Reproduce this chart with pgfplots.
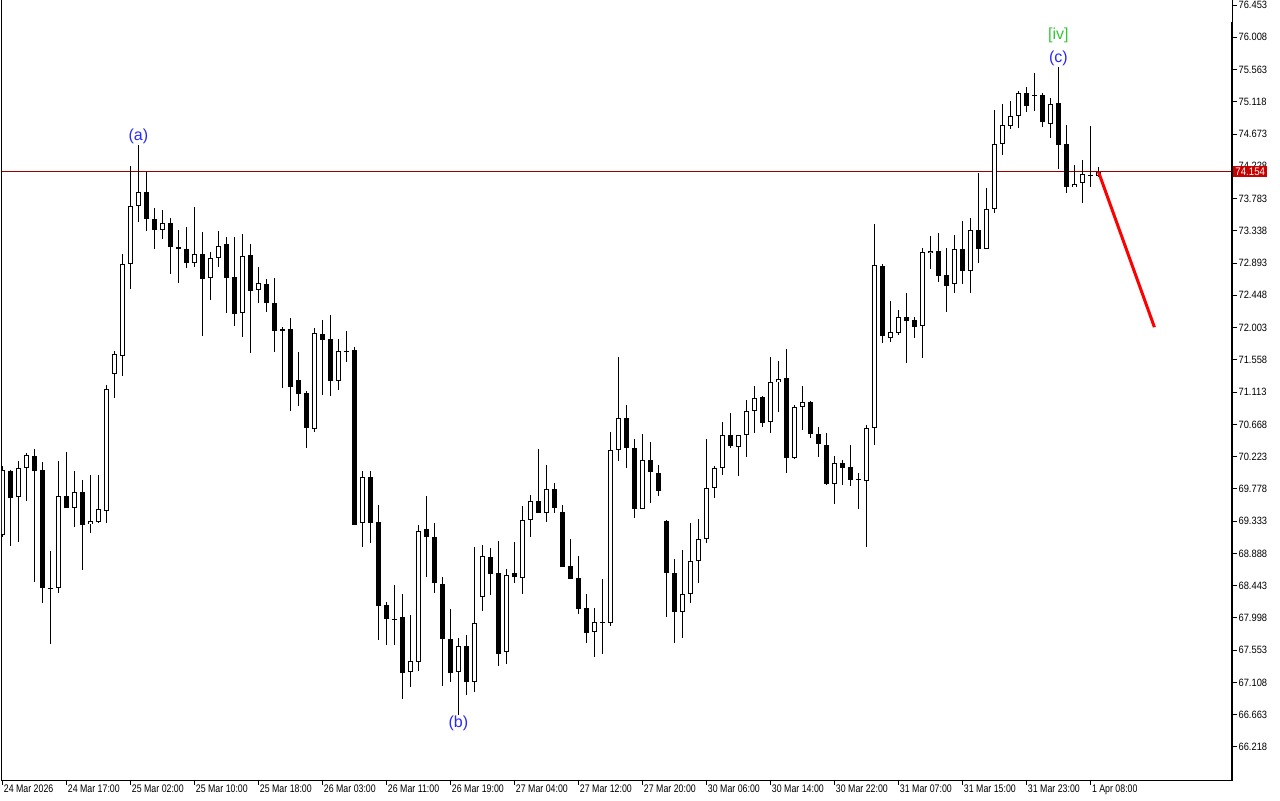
\documentclass[border=0pt]{standalone}
\usepackage{fontspec}
\setmainfont{Liberation Sans}
\newfontfamily\axfont[FakeStretch=0.8]{Liberation Sans}
\newfontfamily\yfont[FakeStretch=0.88]{Liberation Sans}
\usepackage{pgfplots}
\usepackage{pgfplotstable}
\pgfplotsset{compat=1.18}
\definecolor{annblue}{RGB}{40,40,255}
\definecolor{anngreen}{RGB}{50,200,50}
\definecolor{pricered}{RGB}{200,0,0}
\definecolor{lvl}{RGB}{150,0,0}

\pgfplotstableread{
i O H L C
0 69.142 70.094 69.114 70.038
1 70.025 70.038 68.990 69.652
2 69.666 70.163 69.045 70.066
3 70.066 70.273 69.611 70.245
4 70.232 70.328 68.493 70.025
5 70.038 70.149 68.204 68.411
6 68.411 68.921 67.638 68.411
7 68.411 70.163 68.342 69.680
8 69.680 70.287 69.514 69.514
9 69.514 70.025 69.252 69.735
10 69.735 69.900 68.659 69.280
11 69.293 69.969 69.169 69.335
12 69.321 69.969 69.307 69.500
13 69.473 71.211 69.307 71.156
14 71.363 71.680 71.032 71.639
15 71.611 73.018 71.335 72.880
16 72.880 74.232 72.535 73.680
17 73.680 74.522 73.460 73.873
18 73.873 74.149 73.335 73.501
19 73.501 73.653 73.087 73.349
20 73.349 73.625 73.225 73.446
21 73.446 73.515 72.742 73.115
22 73.115 73.349 72.618 73.087
23 73.087 73.391 72.825 72.894
24 72.894 73.666 72.839 73.018
25 73.018 73.322 71.887 72.673
26 72.687 73.046 72.384 72.963
27 72.963 73.335 72.839 73.128
28 73.156 73.253 72.204 72.687
29 72.701 73.253 72.025 72.190
30 72.204 73.294 71.873 72.991
31 73.004 73.156 71.652 72.508
32 72.522 72.839 72.342 72.618
33 72.604 72.673 72.218 72.342
34 72.342 72.687 71.666 71.956
35 71.983 72.011 71.170 71.970
36 71.983 72.135 70.852 71.183
37 71.280 71.666 70.921 71.087
38 71.101 71.128 70.342 70.618
39 70.604 71.997 70.563 71.928
40 71.915 72.108 71.073 71.832
41 71.846 72.177 71.059 71.266
42 71.266 71.846 71.142 71.680
43 71.680 71.956 71.528 71.680
44 71.694 71.735 69.280 69.280
45 69.307 70.025 68.976 69.942
46 69.942 70.025 69.031 69.307
47 69.321 69.556 67.693 68.162
48 68.176 68.217 67.624 67.983
49 67.983 68.452 67.624 67.983
50 68.011 68.328 66.879 67.238
51 67.252 68.038 67.045 67.404
52 67.390 69.280 67.266 69.197
53 69.224 69.680 68.562 69.114
54 69.114 69.307 68.342 68.480
55 68.466 68.562 67.059 67.707
56 67.707 68.121 67.114 67.238
57 67.252 67.721 66.659 67.610
58 67.610 67.762 66.935 67.114
59 67.114 68.976 66.976 67.928
60 68.286 69.004 68.093 68.852
61 68.838 68.962 68.314 68.604
62 68.618 69.059 67.335 67.500
63 67.528 68.673 67.362 68.590
64 68.618 69.045 68.480 68.562
65 68.549 69.542 68.328 69.349
66 69.349 69.694 69.114 69.611
67 69.611 70.328 69.445 69.445
68 69.445 70.107 69.321 69.776
69 69.776 69.859 69.445 69.514
70 69.459 69.556 68.700 68.700
71 68.714 69.087 68.535 68.535
72 68.549 68.852 68.052 68.121
73 68.135 68.328 67.652 67.790
74 67.804 68.135 67.459 67.942
75 67.942 68.535 67.500 67.942
76 67.928 70.563 67.886 70.314
77 70.314 71.597 70.163 70.756
78 70.756 70.935 70.066 70.342
79 70.342 70.466 69.376 69.500
80 69.500 70.535 69.500 70.176
81 70.176 70.425 69.583 70.011
82 69.997 70.107 69.680 69.749
83 69.335 69.349 68.011 68.618
84 68.618 68.811 67.652 68.080
85 68.080 68.935 67.721 68.328
86 68.328 69.307 68.204 68.783
87 68.783 69.362 68.480 69.087
88 69.087 70.466 69.031 69.790
89 69.790 70.094 69.652 70.066
90 70.066 70.701 69.969 70.521
91 70.521 70.825 70.342 70.369
92 70.356 70.521 69.956 70.521
93 70.521 71.004 70.218 70.852
94 70.852 71.197 70.549 71.032
95 71.045 71.059 70.632 70.687
96 70.701 71.597 70.549 71.252
97 71.252 71.542 70.839 71.294
98 71.308 71.708 69.997 70.204
99 70.204 70.935 70.190 70.907
100 70.907 71.197 70.590 70.976
101 70.976 70.990 70.480 70.535
102 70.535 70.632 70.218 70.397
103 70.383 70.549 69.831 69.845
104 69.845 70.232 69.569 70.135
105 70.135 70.176 69.831 70.066
106 70.080 70.383 69.818 69.900
107 69.914 69.997 69.500 69.914
108 69.887 70.659 68.976 70.618
109 70.618 73.432 70.383 72.866
110 72.853 72.880 71.790 71.887
111 71.859 72.370 71.804 71.942
112 71.928 72.246 71.901 72.149
113 72.149 72.480 71.514 72.094
114 72.108 72.149 71.859 72.011
115 72.025 73.101 71.583 73.046
116 73.032 73.266 72.811 73.060
117 73.060 73.308 72.632 72.715
118 72.728 73.101 72.218 72.577
119 72.604 73.280 72.480 73.087
120 73.087 73.473 72.604 72.784
121 72.784 73.515 72.480 73.349
122 73.349 74.136 72.894 73.087
123 73.087 73.929 73.087 73.639
124 73.639 75.005 73.584 74.536
125 74.536 75.087 74.384 74.798
126 74.784 75.129 74.742 74.922
127 74.922 75.267 74.756 75.239
128 75.239 75.322 74.977 75.060
129 75.212 75.515 74.991 75.212
130 75.212 75.239 74.770 74.839
131 74.811 75.170 74.618 75.087
132 75.101 75.598 74.191 74.522
133 74.536 74.798 73.860 73.942
134 73.942 74.246 73.942 73.984
135 73.998 74.315 73.722 74.122
136 74.108 74.784 73.942 74.108
137 74.094 74.218 74.080 74.154
}\candles

\begin{document}
\begin{tikzpicture}
\path[use as bounding box] (0pt,0pt) rectangle (640pt,400pt);
\begin{axis}[
  at={(1pt,10pt)}, anchor=south west,
  width=615pt, height=390pt, scale only axis,
  xmin=-0.04, xmax=153.7, ymin=65.762, ymax=76.522,
  axis line style={black, line width=0.5pt},
  tick align=outside, xtick pos=bottom, ytick pos=right,
  major tick length=2.5pt,
  tick style={black, line width=0.5pt},
  xtick={0,8,...,136},
  xticklabels={24 Mar 2026,24 Mar 17:00,25 Mar 02:00,25 Mar 10:00,25 Mar 18:00,26 Mar 03:00,26 Mar 11:00,26 Mar 19:00,27 Mar 04:00,27 Mar 12:00,27 Mar 20:00,30 Mar 06:00,30 Mar 14:00,30 Mar 22:00,31 Mar 07:00,31 Mar 15:00,31 Mar 23:00,1 Apr 08:00},
  xticklabel style={anchor=north west, inner sep=0pt, xshift=0.6pt, yshift=0.3pt, font=\axfont\fontsize{5.5}{6}\selectfont},
  ytick={66.218,66.663,67.108,67.553,67.998,68.443,68.888,69.333,69.778,70.223,70.668,71.113,71.558,72.003,72.448,72.893,73.338,73.783,74.228,74.673,75.118,75.563,76.008,76.453},
  yticklabels={66.218,66.663,67.108,67.553,67.998,68.443,68.888,69.333,69.778,70.223,70.668,71.113,71.558,72.003,72.448,72.893,73.338,73.783,74.228,74.673,75.118,75.563,76.008,76.453},
  yticklabel pos=right,
  yticklabel style={anchor=west, inner sep=0pt, xshift=0.6pt, font=\yfont\fontsize{5.3}{6}\selectfont},
]
% level line
\addplot[lvl, line width=0.5pt, forget plot] coordinates {(-1,74.154) (160,74.154)};
% wicks
\addplot[draw=none, mark=none, forget plot,
  error bars/.cd, y dir=both, y explicit, error mark=none,
  error bar style={draw=black, line width=0.5pt}]
  table[x=i, y expr={(\thisrow{H}+\thisrow{L})/2}, y error expr={(\thisrow{H}-\thisrow{L})/2}] {\candles};
% bodies (outer)
\addplot[draw=none, mark=none, forget plot,
  error bars/.cd, y dir=both, y explicit, error mark=none,
  error bar style={draw=black, line width=2.5pt}]
  table[x=i, y expr={(\thisrow{O}+\thisrow{C})/2}, y error expr={max(abs(\thisrow{O}-\thisrow{C})/2,0.0069)}] {\candles};
% bullish interior
\addplot[draw=none, mark=none, forget plot,
  error bars/.cd, y dir=both, y explicit, error mark=none,
  error bar style={draw=white, line width=1.5pt}]
  table[x=i, y expr={(\thisrow{O}+\thisrow{C})/2}, y error expr={ifthenelse(\thisrow{C}>\thisrow{O},max((\thisrow{C}-\thisrow{O})/2-0.0138,0),0)}] {\candles};
% forecast
\addplot[red, line width=1.5pt, forget plot] coordinates {(137,74.154) (144,72.009)};
\node[text=annblue, font=\fontsize{8}{9}\selectfont] at (axis cs:17,74.645) {(a)};
\node[text=annblue, font=\fontsize{8}{9}\selectfont] at (axis cs:57,66.545) {(b)};
\node[text=annblue, font=\fontsize{8}{9}\selectfont] at (axis cs:132,75.722) {(c)};
\node[text=anngreen, font=\fontsize{8}{9}\selectfont] at (axis cs:132,76.039) {[iv]};
\coordinate (pl) at (axis cs:153.7,74.154);
\coordinate (br) at (rel axis cs:1,0);
\coordinate (tr) at (rel axis cs:1,0.972);
\end{axis}
\draw[black, line width=1.2pt] (br) -- (tr);
\node[fill=pricered, text=white, anchor=west, inner xsep=1pt, inner ysep=1pt, xshift=0.5pt, font=\yfont\fontsize{5.5}{6}\selectfont] at (pl) {74.154};
\end{tikzpicture}
\end{document}
